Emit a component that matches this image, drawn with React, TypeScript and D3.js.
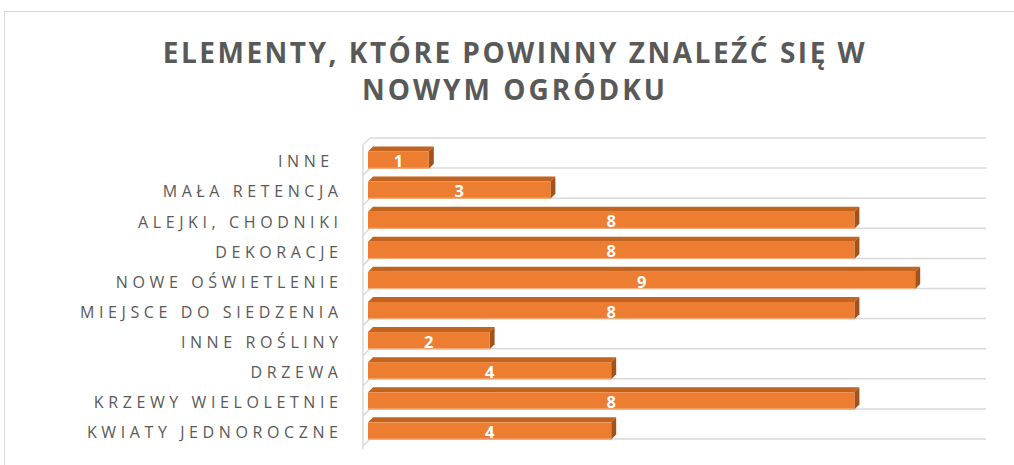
import React from "react";
import * as d3 from "d3";

const titleLines = ["ELEMENTY, KTÓRE POWINNY ZNALEŹĆ SIĘ W", "NOWYM OGRÓDKU"];
const categories = [
  "INNE ",
  "MAŁA RETENCJA",
  "ALEJKI, CHODNIKI",
  "DEKORACJE",
  "NOWE OŚWIETLENIE",
  "MIEJSCE DO SIEDZENIA",
  "INNE ROŚLINY",
  "DRZEWA",
  "KRZEWY WIELOLETNIE",
  "KWIATY JEDNOROCZNE",
];
const values = [1, 3, 8, 8, 9, 8, 2, 4, 8, 4];

const W = 1014;
const H = 465;

export default function App() {
  const x = d3.scaleLinear().domain([0, 10]).range([368, 976]);
  const y = d3
    .scaleBand<string>()
    .domain(categories)
    .range([145, 446])
    .paddingInner(0.43)
    .paddingOuter(0.215);
  const step = y.step();
  const bw = y.bandwidth();
  const frontTop = 145;
  const wallDx = 7;
  const wallDy = -7;
  const depthDx = 5;
  const depthDy = -5;
  const gridEnd = x(10) + 10;
  const grid = d3.range(categories.length + 1).map((i) => frontTop + i * step);
  const font = "'Open Sans', 'DejaVu Sans', sans-serif";
  const labelSpacing = 4.6;

  return (
    <svg
      width={W}
      height={H}
      style={{ position: "absolute", left: 0, top: 0, background: "#fff" }}
    >
      <rect x={4.5} y={11.5} width={1020} height={470} fill="#fff" stroke="#D9D9D9" strokeWidth={1} />
      {titleLines.map((t, i) => (
        <text
          key={i}
          x={515}
          y={63 + i * 37}
          textAnchor="middle"
          fontFamily={font}
          fontWeight={700}
          fontSize={28}
          letterSpacing={i === 0 ? 2.5 : 3}
          fill="#595959"
        >
          {t}
        </text>
      ))}
      {/* wall / floor lines */}
      <g stroke="#D9D9D9" strokeWidth={1.5} fill="none">
        <line x1={363} y1={grid[0]} x2={363} y2={grid[grid.length - 1] + 3} />
        {grid.map((g, i) => (
          <g key={i}>
            <line x1={363} y1={g} x2={363 + wallDx} y2={g + wallDy} />
            <line x1={363 + wallDx} y1={g + wallDy} x2={gridEnd} y2={g + wallDy} />
          </g>
        ))}
      </g>
      {/* bars */}
      {categories.map((c, i) => {
        const y0 = y(c)!;
        const x0 = x(0);
        const x1 = x(values[i]);
        return (
          <g key={c}>
            <polygon
              points={`${x0},${y0} ${x0 + depthDx},${y0 + depthDy} ${x1 + depthDx},${y0 + depthDy} ${x1},${y0}`}
              fill="#C2631F"
            />
            <polygon
              points={`${x1},${y0} ${x1 + depthDx},${y0 + depthDy} ${x1 + depthDx},${y0 + bw + depthDy} ${x1},${y0 + bw}`}
              fill="#A4521A"
            />
            <rect x={x0} y={y0} width={x1 - x0} height={bw} fill="#ED7D31" />
            <line x1={x0} x2={x1} y1={y0 + bw - 0.5} y2={y0 + bw - 0.5} stroke="#F4B183" strokeWidth={1} />
            <text
              x={(x0 + x1) / 2}
              y={y0 + bw - 1.5}
              textAnchor="middle"
              fontFamily={font}
              fontWeight={700}
              fontSize={16.5}
              fill="#fff"
            >
              {values[i]}
            </text>
            <text
              x={338 + labelSpacing}
              y={y0 + bw / 2 + 3}
              textAnchor="end"
              dominantBaseline="middle"
              fontFamily={font}
              fontSize={16}
              letterSpacing={labelSpacing}
              fill="#595959"
              style={{ whiteSpace: "pre" }}
            >
              {c}
            </text>
          </g>
        );
      })}
    </svg>
  );
}
